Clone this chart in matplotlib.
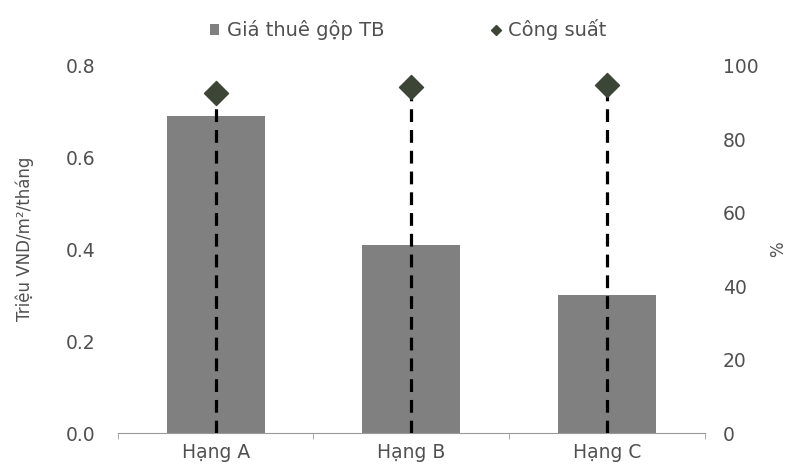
import matplotlib
matplotlib.use("Agg")
import matplotlib.pyplot as plt
import numpy as np
from matplotlib.lines import Line2D
from matplotlib.patches import Patch

categories = ["Hạng A", "Hạng B", "Hạng C"]
rent = [0.69, 0.41, 0.30]          # Triệu VND/m²/tháng
occupancy = [92.6, 94.3, 94.8]     # %

plt.rcParams['font.family'] = ['DejaVu Sans']
txt = '#505050'

fig = plt.figure(figsize=(7.91, 4.67), dpi=100)
ax = fig.add_axes([0.149, 0.0728, 0.742, 0.786])
ax2 = ax.twinx()

x = np.arange(len(categories))
ax.bar(x, rent, width=0.5, color='#808080', zorder=2)
ax.set_ylim(0, 0.8)
ax.set_xlim(-0.5, len(categories) - 0.5)
ax.set_yticks([0.0, 0.2, 0.4, 0.6, 0.8])
ax.set_yticklabels([f"{v:.1f}" for v in [0.0, 0.2, 0.4, 0.6, 0.8]])
ax.set_xticks(x)
ax.set_xticklabels(categories)
ax.set_xticks([-0.5, 0.5, 1.5, 2.5], minor=True)
ax.tick_params(axis='x', which='major', length=0, pad=7, labelsize=13.5, colors=txt)
ax.tick_params(axis='x', which='minor', length=4, color='#999999')
ax.tick_params(axis='y', length=0, pad=16, labelsize=13.5, colors=txt)
ax.set_ylabel("Triệu VND/m²/tháng", fontsize=12, color=txt)
ax.yaxis.set_label_coords(-0.143, 0.53)

ax2.set_ylim(0, 100)
ax2.set_yticks([0, 20, 40, 60, 80, 100])
ax2.tick_params(axis='y', length=0, pad=13, labelsize=13.5, colors=txt)
ax2.set_ylabel("%", fontsize=12, color=txt, labelpad=8)
ax2.vlines(x, 0, occupancy, colors='black', linestyles=(0, (4, 2.5)), linewidth=2.3, zorder=3)
ax2.scatter(x, occupancy, marker='D', s=150, color='#3d4536', zorder=4)

for a in (ax, ax2):
    for s in ['top', 'left', 'right']:
        a.spines[s].set_visible(False)
ax.spines['bottom'].set_color('#999999')
ax2.spines['bottom'].set_visible(False)

handles = [Patch(facecolor='#808080', label='Giá thuê gộp TB'),
           Line2D([], [], marker='D', color='#3d4536', linestyle='none', markersize=5, label='Công suất')]
fig.legend(handles=handles, loc='center', bbox_to_anchor=(0.516, 0.936), ncol=2, frameon=False,
           fontsize=14, labelcolor=txt, handlelength=0.45, handleheight=0.45,
           handletextpad=0.4, columnspacing=5.5)

fig.savefig("out.png", dpi=100)
